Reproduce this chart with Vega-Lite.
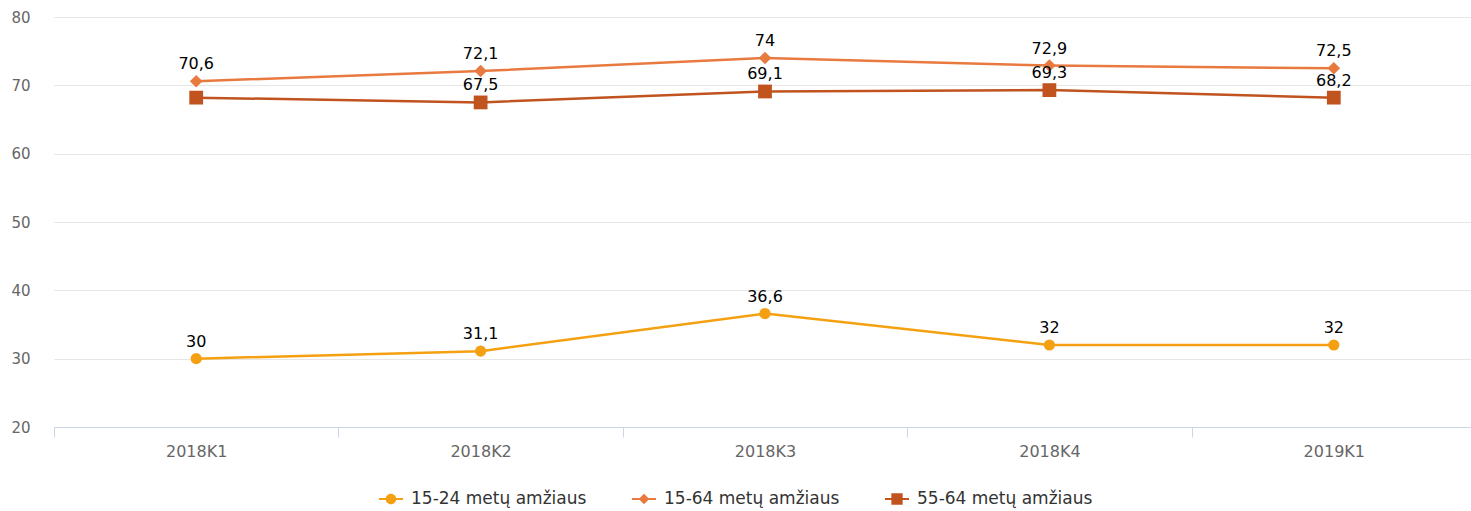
{
  "$schema": "https://vega.github.io/schema/vega-lite/v6.json",
  "width": 1422,
  "height": 410,
  "autosize": {"type": "none"},
  "padding": {"left": 54, "top": 17, "right": -5, "bottom": 84},
  "background": "white",
  "config": {
    "view": {"stroke": null},
    "font": "DejaVu Sans",
    "locale": {"number": {"decimal": ",", "thousands": " ", "grouping": [3], "currency": ["", " €"]}}
  },
  "data": {
    "values": [
      {"q": "2018K1", "s": "15-24 metų amžiaus", "v": 30},
      {"q": "2018K2", "s": "15-24 metų amžiaus", "v": 31.1},
      {"q": "2018K3", "s": "15-24 metų amžiaus", "v": 36.6},
      {"q": "2018K4", "s": "15-24 metų amžiaus", "v": 32},
      {"q": "2019K1", "s": "15-24 metų amžiaus", "v": 32},
      {"q": "2018K1", "s": "15-64 metų amžiaus", "v": 70.6},
      {"q": "2018K2", "s": "15-64 metų amžiaus", "v": 72.1},
      {"q": "2018K3", "s": "15-64 metų amžiaus", "v": 74},
      {"q": "2018K4", "s": "15-64 metų amžiaus", "v": 72.9},
      {"q": "2019K1", "s": "15-64 metų amžiaus", "v": 72.5},
      {"q": "2018K1", "s": "55-64 metų amžiaus", "v": 68.2},
      {"q": "2018K2", "s": "55-64 metų amžiaus", "v": 67.5},
      {"q": "2018K3", "s": "55-64 metų amžiaus", "v": 69.1},
      {"q": "2018K4", "s": "55-64 metų amžiaus", "v": 69.3},
      {"q": "2019K1", "s": "55-64 metų amžiaus", "v": 68.2}
    ]
  },
  "encoding": {
    "x": {
      "field": "q", "type": "ordinal", "title": null,
      "scale": {"type": "band", "paddingInner": 0, "paddingOuter": 0},
      "axis": {
        "labelAngle": 0, "tickBand": "extent", "tickSize": 10, "tickColor": "#ccd6eb",
        "domainColor": "#ccd6eb", "domainWidth": 1, "grid": false,
        "labelColor": "#666666", "labelFontSize": 16, "labelPadding": 6
      }
    },
    "y": {
      "field": "v", "type": "quantitative", "title": null,
      "scale": {"domain": [20, 80], "nice": false, "zero": false},
      "axis": {
        "values": [20, 30, 40, 50, 60, 70, 80], "domain": false, "ticks": false,
        "gridColor": "#e6e6e6", "gridWidth": 1, "labelColor": "#666666",
        "labelFontSize": 15, "labelPadding": 24
      }
    },
    "color": {
      "field": "s", "type": "nominal",
      "scale": {
        "domain": ["15-24 metų amžiaus", "15-64 metų amžiaus", "55-64 metų amžiaus"],
        "range": ["#f5a011", "#e87a40", "#c0531e"]
      },
      "legend": {
        "title": null, "orient": "none", "direction": "horizontal",
        "legendX": 325, "legendY": 470,
        "symbolSize": 576, "labelFontSize": 17, "labelColor": "#333333",
        "labelLimit": 0, "columnPadding": 45, "labelOffset": 8,
        "symbolStrokeWidth": 0, "symbolType": "square",
        "encode": {
          "symbols": {
            "update": {
              "shape": {"signal": "datum.value == '15-24 metų amžiaus' ? 'M-1,-0.09L1,-0.09L1,0.09L-1,0.09Z M0.44,0A0.44,0.44 0 1 1 -0.44,0A0.44,0.44 0 1 1 0.44,0Z' : datum.value == '15-64 metų amžiaus' ? 'M-1,-0.09L1,-0.09L1,0.09L-1,0.09Z M0,-0.44L0.44,0L0,0.44L-0.44,0Z' : 'M-1,-0.09L1,-0.09L1,0.09L-1,0.09Z M-0.47,-0.47L0.47,-0.47L0.47,0.47L-0.47,0.47Z'"},
              "fill": {"signal": "scale('color', datum.value)"},
              "fillOpacity": {"value": 1},
              "strokeWidth": {"value": 0}
            }
          }
        }
      }
    }
  },
  "layer": [
    {
      "mark": {"type": "line", "strokeWidth": 2.5}
    },
    {
      "transform": [{"filter": "datum.s == '15-24 metų amžiaus'"}],
      "mark": {"type": "point", "filled": true, "opacity": 1, "shape": "circle", "size": 125}
    },
    {
      "transform": [{"filter": "datum.s == '15-64 metų amžiaus'"}],
      "mark": {"type": "point", "filled": true, "opacity": 1, "shape": "diamond", "size": 160}
    },
    {
      "transform": [{"filter": "datum.s == '55-64 metų amžiaus'"}],
      "mark": {"type": "point", "filled": true, "opacity": 1, "shape": "square", "size": 190}
    },
    {
      "transform": [{"filter": "!(datum.q == '2018K1' && datum.s == '55-64 metų amžiaus')"}],
      "mark": {"type": "text", "dy": -17, "fontSize": 16, "color": "#000000"},
      "encoding": {
        "text": {"field": "v", "type": "quantitative", "format": ".1~f"},
        "color": {"value": "#000000"}
      }
    }
  ]
}
